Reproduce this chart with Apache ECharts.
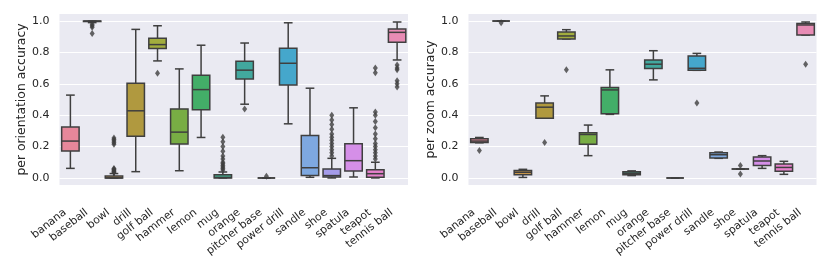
<!DOCTYPE html>
<html>
<head>
<meta charset="utf-8">
<script src="https://cdn.jsdelivr.net/npm/echarts@6/dist/echarts.min.js"></script>
<style>
html,body{margin:0;padding:0;background:#fff;}
#chart{width:830px;height:264px;}
</style>
</head>
<body>
<div id="chart"></div>
<script>
const categories = ['banana','baseball','bowl','drill','golf ball','hammer','lemon','mug','orange','pitcher base','power drill','sandle','shoe','spatula','teapot','tennis ball'];
const boxColors = ['#e6879a','#dc8a5c','#cc9a4a','#b0993f','#a2ad3e','#78ad44','#43ae68','#44aa8c','#42a89e','#43a6b2','#45a7cc','#7ea8e0','#a59cea','#d58fe8','#e681cc','#e88cb5'];
const yTicks = [0, 0.2, 0.4, 0.6, 0.8, 1.0];

// per orientation accuracy
const orientMin = [0.061, 0.99, 0.0, 0.04, 0.746, 0.046, 0.258, 0.0, 0.47, 0.0, 0.345, 0.004, 0.0, 0.006, 0.0, 0.752];
const orientQ1  = [0.172, 0.997, 0.0, 0.265, 0.825, 0.216, 0.434, 0.0, 0.631, 0.0, 0.593, 0.015, 0.006, 0.044, 0.005, 0.865];
const orientMed = [0.235, 1.0, 0.0, 0.428, 0.85, 0.292, 0.563, 0.003, 0.687, 0.0, 0.731, 0.065, 0.015, 0.11, 0.027, 0.928];
const orientQ3  = [0.324, 1.0, 0.012, 0.604, 0.891, 0.44, 0.655, 0.02, 0.744, 0.0, 0.826, 0.271, 0.057, 0.218, 0.053, 0.949];
const orientMax = [0.528, 1.0, 0.028, 0.947, 0.97, 0.695, 0.846, 0.038, 0.86, 0.0, 0.989, 0.572, 0.125, 0.447, 0.10, 0.994];
const orientOutliers = [
  [],
  [0.98, 0.97, 0.96, 0.92],
  [0.035, 0.04, 0.045, 0.05, 0.055, 0.06, 0.215, 0.225, 0.235, 0.245, 0.255],
  [],
  [0.667],
  [],
  [],
  [0.05, 0.06, 0.07, 0.08, 0.09, 0.1, 0.12, 0.14, 0.17, 0.2, 0.23, 0.26],
  [0.44],
  [0.01],
  [],
  [],
  [0.14, 0.16, 0.18, 0.2, 0.22, 0.24, 0.26, 0.28, 0.31, 0.34, 0.37, 0.4],
  [],
  [0.12, 0.14, 0.16, 0.18, 0.2, 0.22, 0.25, 0.28, 0.32, 0.36, 0.4, 0.42, 0.67, 0.7],
  [0.72, 0.7, 0.69, 0.62, 0.6, 0.58]
];

// per zoom accuracy
const zoomMin = [0.224, 1.0, 0.003, 0.381, 0.886, 0.142, 0.405, 0.015, 0.625, 0.0, 0.686, 0.125, 0.057, 0.061, 0.023, 0.911];
const zoomQ1  = [0.226, 1.0, 0.021, 0.381, 0.886, 0.214, 0.409, 0.021, 0.697, 0.0, 0.686, 0.127, 0.057, 0.08, 0.042, 0.911];
const zoomMed = [0.235, 1.0, 0.036, 0.451, 0.905, 0.277, 0.561, 0.03, 0.725, 0.0, 0.699, 0.148, 0.057, 0.108, 0.067, 0.975];
const zoomQ3  = [0.25, 1.0, 0.048, 0.477, 0.93, 0.288, 0.576, 0.04, 0.752, 0.0, 0.778, 0.161, 0.057, 0.134, 0.089, 0.985];
const zoomMax = [0.258, 1.0, 0.055, 0.523, 0.945, 0.337, 0.689, 0.045, 0.811, 0.0, 0.794, 0.165, 0.057, 0.142, 0.106, 0.994];
const zoomOutliers = [
  [0.175], [0.99], [], [0.226], [0.689], [], [], [], [], [], [0.477], [], [0.08, 0.025], [], [], [0.725]
];

function boxData(mn, q1, md, q3, mx) {
  return categories.map((c, i) => [i, mn[i], q1[i], md[i], q3[i], mx[i]]);
}
function outlierData(out) {
  const d = [];
  out.forEach((arr, i) => arr.forEach(v => d.push([i, v])));
  return d;
}

const EDGE = '#3f3f3f';
function renderBox(params, api) {
  const i = api.value(0);
  const x = api.coord([i, 0])[0];
  const bw = api.size([1, 0])[0];
  const w = bw * 0.8;
  const cap = w * 0.5;
  const yMin = api.coord([i, api.value(1)])[1];
  const yQ1 = api.coord([i, api.value(2)])[1];
  const yMed = api.coord([i, api.value(3)])[1];
  const yQ3 = api.coord([i, api.value(4)])[1];
  const yMax = api.coord([i, api.value(5)])[1];
  const ls = { stroke: EDGE, lineWidth: 1.5, fill: null };
  return {
    type: 'group',
    children: [
      { type: 'line', shape: { x1: x, y1: yQ1, x2: x, y2: yMin }, style: ls },
      { type: 'line', shape: { x1: x, y1: yQ3, x2: x, y2: yMax }, style: ls },
      { type: 'line', shape: { x1: x - cap / 2, y1: yMin, x2: x + cap / 2, y2: yMin }, style: ls },
      { type: 'line', shape: { x1: x - cap / 2, y1: yMax, x2: x + cap / 2, y2: yMax }, style: ls },
      { type: 'rect', shape: { x: x - w / 2, y: yQ3, width: w, height: Math.max(yQ1 - yQ3, 0) },
        style: { fill: boxColors[i], stroke: EDGE, lineWidth: 1.5 } },
      { type: 'line', shape: { x1: x - w / 2, y1: yMed, x2: x + w / 2, y2: yMed }, style: ls }
    ]
  };
}

const FONT = 'DejaVu Sans';
const TXT = '#262626';
function xAxis(idx) {
  return {
    type: 'category', gridIndex: idx, data: categories,
    axisLine: { show: false }, axisTick: { show: false }, splitLine: { show: false },
    axisLabel: { rotate: 38, fontSize: 10.8, fontFamily: FONT, color: TXT, margin: 22, interval: 0,
      padding: [16, 7, 0, 0] }
  };
}
function yAxis(idx, name) {
  return {
    type: 'value', gridIndex: idx, min: -0.045, max: 1.045,
    name: name, nameLocation: 'middle', nameGap: 31, nameRotate: 90,
    nameTextStyle: { fontSize: 12.4, fontFamily: FONT, color: TXT },
    axisLine: { show: false },
    axisTick: { show: false, customValues: yTicks },
    axisLabel: { customValues: yTicks, fontSize: 11, fontFamily: FONT, color: TXT, margin: 10,
      formatter: v => v.toFixed(1) },
    splitLine: { show: true, lineStyle: { color: '#ffffff', width: 1.2 } }
  };
}

const chart = echarts.init(document.getElementById('chart'), null, { renderer: 'canvas' });
chart.setOption({
  animation: false,
  backgroundColor: '#ffffff',
  grid: [
    { left: 59.5, top: 14, width: 348.5, height: 171, show: true, backgroundColor: '#eaeaf2', borderWidth: 0 },
    { left: 468.5, top: 14, width: 348, height: 171, show: true, backgroundColor: '#eaeaf2', borderWidth: 0 }
  ],
  xAxis: [xAxis(0), xAxis(1)],
  yAxis: [yAxis(0, 'per orientation accuracy'), yAxis(1, 'per zoom accuracy')],
  series: [
    { type: 'custom', xAxisIndex: 0, yAxisIndex: 0, renderItem: renderBox,
      encode: { x: 0, y: [1, 2, 3, 4, 5] },
      data: boxData(orientMin, orientQ1, orientMed, orientQ3, orientMax), z: 2 },
    { type: 'scatter', xAxisIndex: 0, yAxisIndex: 0, symbol: 'diamond', symbolSize: [5, 7],
      itemStyle: { color: EDGE }, data: outlierData(orientOutliers), z: 3 },
    { type: 'custom', xAxisIndex: 1, yAxisIndex: 1, renderItem: renderBox,
      encode: { x: 0, y: [1, 2, 3, 4, 5] },
      data: boxData(zoomMin, zoomQ1, zoomMed, zoomQ3, zoomMax), z: 2 },
    { type: 'scatter', xAxisIndex: 1, yAxisIndex: 1, symbol: 'diamond', symbolSize: [5, 7],
      itemStyle: { color: EDGE }, data: outlierData(zoomOutliers), z: 3 }
  ]
});
</script>
</body>
</html>
